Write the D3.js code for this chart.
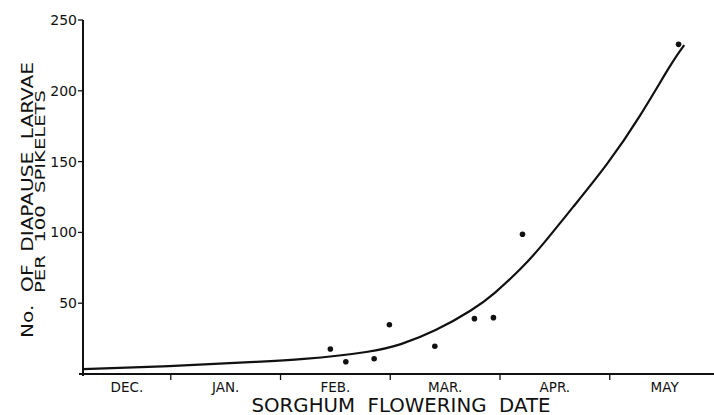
<!DOCTYPE html>
<html><head><meta charset="utf-8">
<script src="https://cdn.jsdelivr.net/npm/d3@7"></script>
<style>
html,body{margin:0;padding:0;background:#fff;}
svg text{font-family:"DejaVu Sans",Lato,sans-serif;font-weight:400;fill:#111;white-space:pre;}
</style></head>
<body><svg id="c" width="714" height="415"></svg>
<script>
const monthLabels = ["DEC.","JAN.","FEB.","MAR.","APR.","MAY"];
const monthLabelPos = [0.6, 1.5, 2.5, 3.5, 4.5, 5.5];
const monthBoundaries = [1, 2, 3, 4, 5];
const yTicks = [50, 100, 150, 200, 250];
const pointMonth = [2.454, 2.595, 2.853, 2.992, 3.406, 3.767, 3.940, 4.205, 5.627];
const pointValue = [17.7, 8.7, 10.8, 34.8, 19.6, 39.1, 39.8, 98.7, 232.8];
const curveMonth = [0.2, 0.993, 1.72, 2.178, 2.853, 3.09, 3.406, 3.764, 3.937, 4.202, 4.366, 4.667, 4.977, 5.277, 5.578, 5.679];
const curveValue = [3.5, 5.3, 8.5, 9.9, 15.7, 20.5, 29.9, 45.9, 55.8, 75.0, 89.0, 118.1, 147.6, 181.7, 221.8, 232.3];

const svg = d3.select("#c");
const x = d3.scaleLinear().domain([0.2, 5.95]).range([83, 714]);
const y = d3.scaleLinear().domain([0, 250]).range([374, 20]);

// x axis
const xg = svg.append("g").attr("transform", `translate(0,${y(0)})`);
xg.append("line").attr("x1", 79).attr("x2", 714).attr("stroke", "#111").attr("stroke-width", 2);
xg.selectAll("line.t").data(monthBoundaries).join("line").attr("class","t")
  .attr("x1", d => x(d)).attr("x2", d => x(d)).attr("y1", 0).attr("y2", 6)
  .attr("stroke", "#111").attr("stroke-width", 1.3);
xg.selectAll("text").data(monthLabels).join("text")
  .attr("x", (d, i) => x(monthLabelPos[i])).attr("y", 18)
  .attr("text-anchor", "middle").style("font-size", "13.5px").text(d => d);

// y axis
const yg = svg.append("g").attr("transform", `translate(${x(0.2)},0)`);
yg.append("line").attr("y1", y(250)).attr("y2", y(0) + 2).attr("stroke", "#111").attr("stroke-width", 2);
yg.selectAll("line.t").data(yTicks).join("line").attr("class","t")
  .attr("x1", -5).attr("x2", 0).attr("y1", d => y(d)).attr("y2", d => y(d))
  .attr("stroke", "#111").attr("stroke-width", 1.3);
yg.selectAll("text").data(yTicks).join("text")
  .attr("x", -6).attr("y", d => y(d)).attr("dy", "0.36em")
  .attr("text-anchor", "end").style("font-size", "14px").text(d => d);

// titles
svg.append("text").attr("x", 401).attr("y", 412)
  .attr("text-anchor", "middle").style("font-size", "19px")
  .attr("textLength", 299).attr("lengthAdjust", "spacingAndGlyphs")
  .text("SORGHUM  FLOWERING  DATE");
svg.append("text").attr("transform", "translate(33,200) rotate(-90)")
  .attr("text-anchor", "middle").style("font-size", "16.5px")
  .attr("textLength", 276).attr("lengthAdjust", "spacingAndGlyphs")
  .text("No.  OF  DIAPAUSE  LARVAE");
svg.append("text").attr("transform", "translate(44.5,191.5) rotate(-90)")
  .attr("text-anchor", "middle").style("font-size", "13.5px")
  .attr("textLength", 203).attr("lengthAdjust", "spacingAndGlyphs")
  .text("PER  100  SPIKELETS");

// curve
const pts = curveMonth.map((m, i) => [m, curveValue[i]]);
svg.append("path").datum(pts)
  .attr("d", d3.line().x(d => x(d[0])).y(d => y(d[1])).curve(d3.curveBasis))
  .attr("fill", "none").attr("stroke", "#111").attr("stroke-width", 2.2);

// points
svg.selectAll("circle").data(pointMonth).join("circle")
  .attr("cx", d => x(d)).attr("cy", (d, i) => y(pointValue[i])).attr("r", 2.8).attr("fill", "#111");
</script></body></html>
